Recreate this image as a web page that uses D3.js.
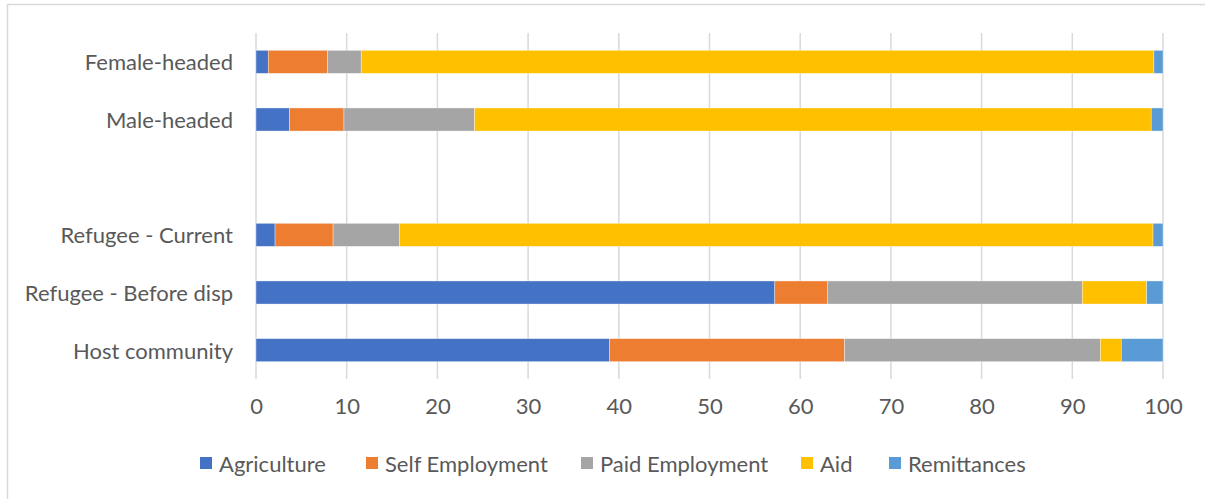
<!DOCTYPE html>
<html>
<head>
<meta charset="utf-8">
<script src="https://cdn.jsdelivr.net/npm/d3@7"></script>
<style>
  html, body { margin: 0; padding: 0; background: #fff; }
  svg { display: block; font-family: Lato, "Noto Sans", sans-serif; }
</style>
</head>
<body>
<svg id="chart" width="1205" height="499"></svg>
<script>
// Livelihood sources by household group (share of income, %)
const categories = ["Female-headed", "Male-headed", "", "Refugee - Current", "Refugee - Before disp", "Host community"];
const seriesNames = ["Agriculture", "Self Employment", "Paid Employment", "Aid", "Remittances"];
const agriculture    = [1.35, 3.7, null, 2.1, 57.2, 39.0];
const selfEmployment = [6.55, 6.0, null, 6.4,  5.8, 25.9];
const paidEmployment = [3.7, 14.4, null, 7.3, 28.1, 28.2];
const aid            = [87.4, 74.6, null, 83.1, 7.1,  2.3];
const remittances    = [1.0,  1.3, null, 1.1,  1.8,  4.6];
const xTicks = [0, 10, 20, 30, 40, 50, 60, 70, 80, 90, 100];
const colors = ["#4472C4", "#ED7D31", "#A5A5A5", "#FFC000", "#5B9BD5"];

const seriesValues = [agriculture, selfEmployment, paidEmployment, aid, remittances];
const rows = categories.map((c, i) => {
  const r = { category: c };
  seriesNames.forEach((s, k) => { r[s] = seriesValues[k][i] || 0; });
  return r;
});

const svg = d3.select("#chart");
const textColor = "#595959";
const gridColor = "#D9D9D9";
const fontSize = "22px";

// outer frame
svg.append("rect")
  .attr("x", 7.5).attr("y", 4.5)
  .attr("width", 1300).attr("height", 600)
  .attr("fill", "none").attr("stroke", gridColor).attr("stroke-width", 1.5);

const x = d3.scaleLinear().domain([0, 100]).range([256, 1163]);
const y = d3.scaleBand().domain(categories).range([33, 379])
  .paddingInner(0.6).paddingOuter(0.3);

// vertical gridlines
svg.append("g").selectAll("line").data(xTicks).join("line")
  .attr("x1", d => x(d)).attr("x2", d => x(d))
  .attr("y1", 33).attr("y2", 379)
  .attr("stroke", gridColor).attr("stroke-width", 1.5);

// stacked bars
const stack = d3.stack().keys(seriesNames)(rows);
svg.append("g").selectAll("g").data(stack).join("g")
  .attr("fill", (d, i) => colors[i])
  .selectAll("rect")
  .data(d => d.filter(p => p.data.category !== "" && p[1] > p[0]))
  .join("rect")
  .attr("x", d => x(d[0]))
  .attr("width", d => x(d[1]) - x(d[0]))
  .attr("y", d => y(d.data.category))
  .attr("height", y.bandwidth())
  .attr("stroke", "#ffffff").attr("stroke-width", 0.6).attr("stroke-opacity", 0.6);

// category labels
svg.append("g").selectAll("text").data(categories.filter(c => c !== "")).join("text")
  .attr("x", 233)
  .attr("y", d => y(d) + y.bandwidth() / 2)
  .attr("text-anchor", "end")
  .attr("dominant-baseline", "central")
  .attr("fill", textColor)
  .attr("font-size", fontSize)
  .text(d => d);

// x axis tick labels
const xAxis = d3.axisBottom(x).tickValues(xTicks).tickSize(0).tickPadding(0);
const ax = svg.append("g").attr("transform", "translate(0,398)").call(xAxis);
ax.select(".domain").remove();
ax.selectAll("text")
  .attr("fill", textColor)
  .attr("font-size", fontSize)
  .attr("font-family", "Lato, 'Noto Sans', sans-serif");

// legend
const legendX = [200, 366, 581, 801, 889];
const legend = svg.append("g").selectAll("g").data(seriesNames).join("g")
  .attr("transform", (d, i) => `translate(${legendX[i]},463)`);
legend.append("rect")
  .attr("x", 0).attr("y", -6).attr("width", 12).attr("height", 12)
  .attr("fill", (d, i) => colors[i]);
legend.append("text")
  .attr("x", 19).attr("y", 0)
  .attr("dominant-baseline", "central")
  .attr("fill", textColor)
  .attr("font-size", fontSize)
  .text(d => d);
</script>
</body>
</html>
